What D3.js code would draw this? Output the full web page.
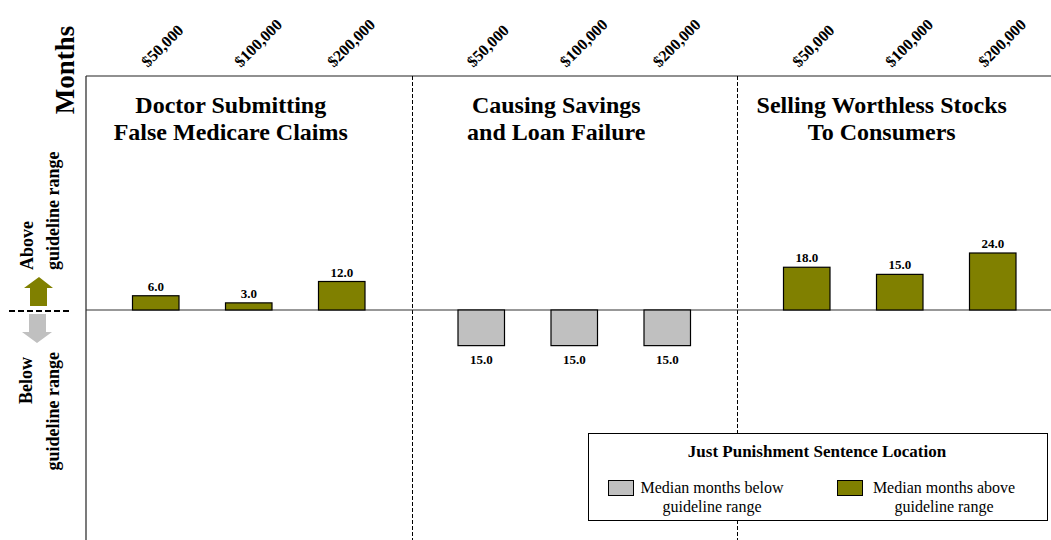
<!DOCTYPE html>
<html>
<head>
<meta charset="utf-8">
<script src="https://cdn.jsdelivr.net/npm/d3@7"></script>
<style>
  html, body { margin: 0; padding: 0; background: #fff; }
  svg { display: block; font-family: "Liberation Serif", "Times New Roman", serif; }
</style>
</head>
<body>
<svg id="chart" width="1051" height="540"></svg>
<script>
// Fraud amount for each bar, repeated in every offense panel
const categories = ["$50,000", "$100,000", "$200,000"];
// Offense panel titles (two lines each)
const offenses = [
  ["Doctor Submitting", "False Medicare Claims"],
  ["Causing Savings", "and Loan Failure"],
  ["Selling Worthless Stocks", "To Consumers"]
];
// Median months relative to guideline range (negative = below)
const medicareMonths = [6.0, 3.0, 12.0];
const savingsLoanMonths = [-15.0, -15.0, -15.0];
const stocksMonths = [18.0, 15.0, 24.0];
const legendTitle = "Just Punishment Sentence Location";
const legendItems = [
  { key: "below", lines: ["Median months below", "guideline range"] },
  { key: "above", lines: ["Median months above", "guideline range"] }
];

const colors = { above: "#808000", below: "#c0c0c0" };
const seriesByOffense = [medicareMonths, savingsLoanMonths, stocksMonths];

const svg = d3.select("#chart");
const W = 1051, H = 540;
const plotLeft = 86, plotTop = 76;

// Bar slots: 3 bars per panel, panels separated by half a slot
const slotsPerPanel = 3.5;
const x = d3.scaleLinear().domain([-0.75, 9.75]).range([plotLeft, plotLeft + 10.5 * 93]);
const y = d3.scaleLinear().domain([0, 24]).range([310, 253]);
const barW = x(0.25) - x(-0.25);

const bars = [];
seriesByOffense.forEach((vals, g) => {
  vals.forEach((v, i) => bars.push({ slot: g * slotsPerPanel + i, value: v, cat: categories[i] }));
});

// Frame: left edge, top edge
svg.append("line").attr("x1", plotLeft).attr("x2", plotLeft).attr("y1", plotTop).attr("y2", H)
  .attr("stroke", "#222").attr("stroke-width", 1.2);
svg.append("line").attr("x1", plotLeft).attr("x2", W).attr("y1", plotTop).attr("y2", plotTop)
  .attr("stroke", "#222").attr("stroke-width", 1.2);

// Panel dividers
[1, 2].forEach(g => {
  const xd = Math.round(x(g * slotsPerPanel - 0.75)) + 0.5;
  svg.append("line").attr("x1", xd).attr("x2", xd).attr("y1", plotTop).attr("y2", H)
    .attr("stroke", "#000").attr("stroke-width", 1).attr("stroke-dasharray", "4,2");
});

// Zero line
svg.append("line").attr("x1", plotLeft).attr("x2", W).attr("y1", y(0)).attr("y2", y(0))
  .attr("stroke", "#333").attr("stroke-width", 1.2);

// Bars
svg.append("g").selectAll("rect").data(bars).join("rect")
  .attr("x", d => x(d.slot) - barW / 2)
  .attr("y", d => Math.min(y(d.value), y(0)))
  .attr("width", barW)
  .attr("height", d => Math.abs(y(d.value) - y(0)))
  .attr("fill", d => d.value >= 0 ? colors.above : colors.below)
  .attr("stroke", "#000").attr("stroke-width", 1.2);

// Value labels
svg.append("g").selectAll("text").data(bars).join("text")
  .attr("x", d => x(d.slot))
  .attr("y", d => d.value >= 0 ? y(d.value) - 5 : y(d.value) + 18)
  .attr("text-anchor", "middle")
  .attr("font-size", 13).attr("font-weight", "bold")
  .text(d => Math.abs(d.value).toFixed(1));

// Rotated amount labels above the frame
svg.append("g").selectAll("text").data(bars).join("text")
  .attr("transform", d => `translate(${x(d.slot) - 8},68) rotate(-45)`)
  .attr("font-size", 16).attr("font-weight", "bold")
  .text(d => d.cat);

// Panel titles
offenses.forEach((lines, g) => {
  const cx = x(g * slotsPerPanel + 1) - 18;
  lines.forEach((t, k) => {
    svg.append("text").attr("x", cx).attr("y", 113 + k * 27)
      .attr("text-anchor", "middle").attr("font-size", 24).attr("font-weight", "bold")
      .text(t);
  });
});

// Vertical axis title
svg.append("text").attr("transform", "translate(74,70) rotate(-90)")
  .attr("text-anchor", "middle").attr("font-size", 27).attr("font-weight", "bold")
  .text("Months");

// Above / below annotations
const side = svg.append("g").attr("font-size", 18).attr("font-weight", "bold");
side.append("text").attr("transform", "translate(33,270) rotate(-90)").text("Above");
side.append("text").attr("transform", "translate(59,270) rotate(-90)").text("guideline range");
side.append("text").attr("transform", "translate(32,357) rotate(-90)").attr("text-anchor", "end").text("Below");
side.append("text").attr("transform", "translate(59,352) rotate(-90)").attr("text-anchor", "end").text("guideline range");

// Direction arrows and dashed divider
svg.append("path")
  .attr("d", "M30,306 L30,288 L24,288 L39,277 L53,288 L47,288 L47,306 Z")
  .attr("fill", colors.above);
svg.append("path")
  .attr("d", "M29,314 L29,332 L22,332 L37,343 L52,332 L46,332 L46,314 Z")
  .attr("fill", colors.below);
svg.append("line").attr("x1", 9).attr("x2", 70).attr("y1", 311).attr("y2", 311)
  .attr("stroke", "#000").attr("stroke-width", 2.2).attr("stroke-dasharray", "6,3");

// Legend
const lg = svg.append("g");
lg.append("rect").attr("x", 588.5).attr("y", 433.5).attr("width", 459).attr("height", 87)
  .attr("fill", "#fff").attr("stroke", "#000").attr("stroke-width", 1);
lg.append("text").attr("x", 817).attr("y", 457).attr("text-anchor", "middle")
  .attr("font-size", 17).attr("font-weight", "bold").text(legendTitle);
const legendPos = { below: { sx: 608, tx: 712 }, above: { sx: 837, tx: 944 } };
legendItems.forEach(it => {
  const p = legendPos[it.key];
  lg.append("rect").attr("x", p.sx + 0.5).attr("y", 480.5).attr("width", 25).attr("height", 15)
    .attr("fill", colors[it.key]).attr("stroke", "#000").attr("stroke-width", 1);
  it.lines.forEach((t, k) => {
    lg.append("text").attr("x", p.tx).attr("y", 493 + k * 19).attr("text-anchor", "middle")
      .attr("font-size", 16).text(t);
  });
});
</script>
</body>
</html>
